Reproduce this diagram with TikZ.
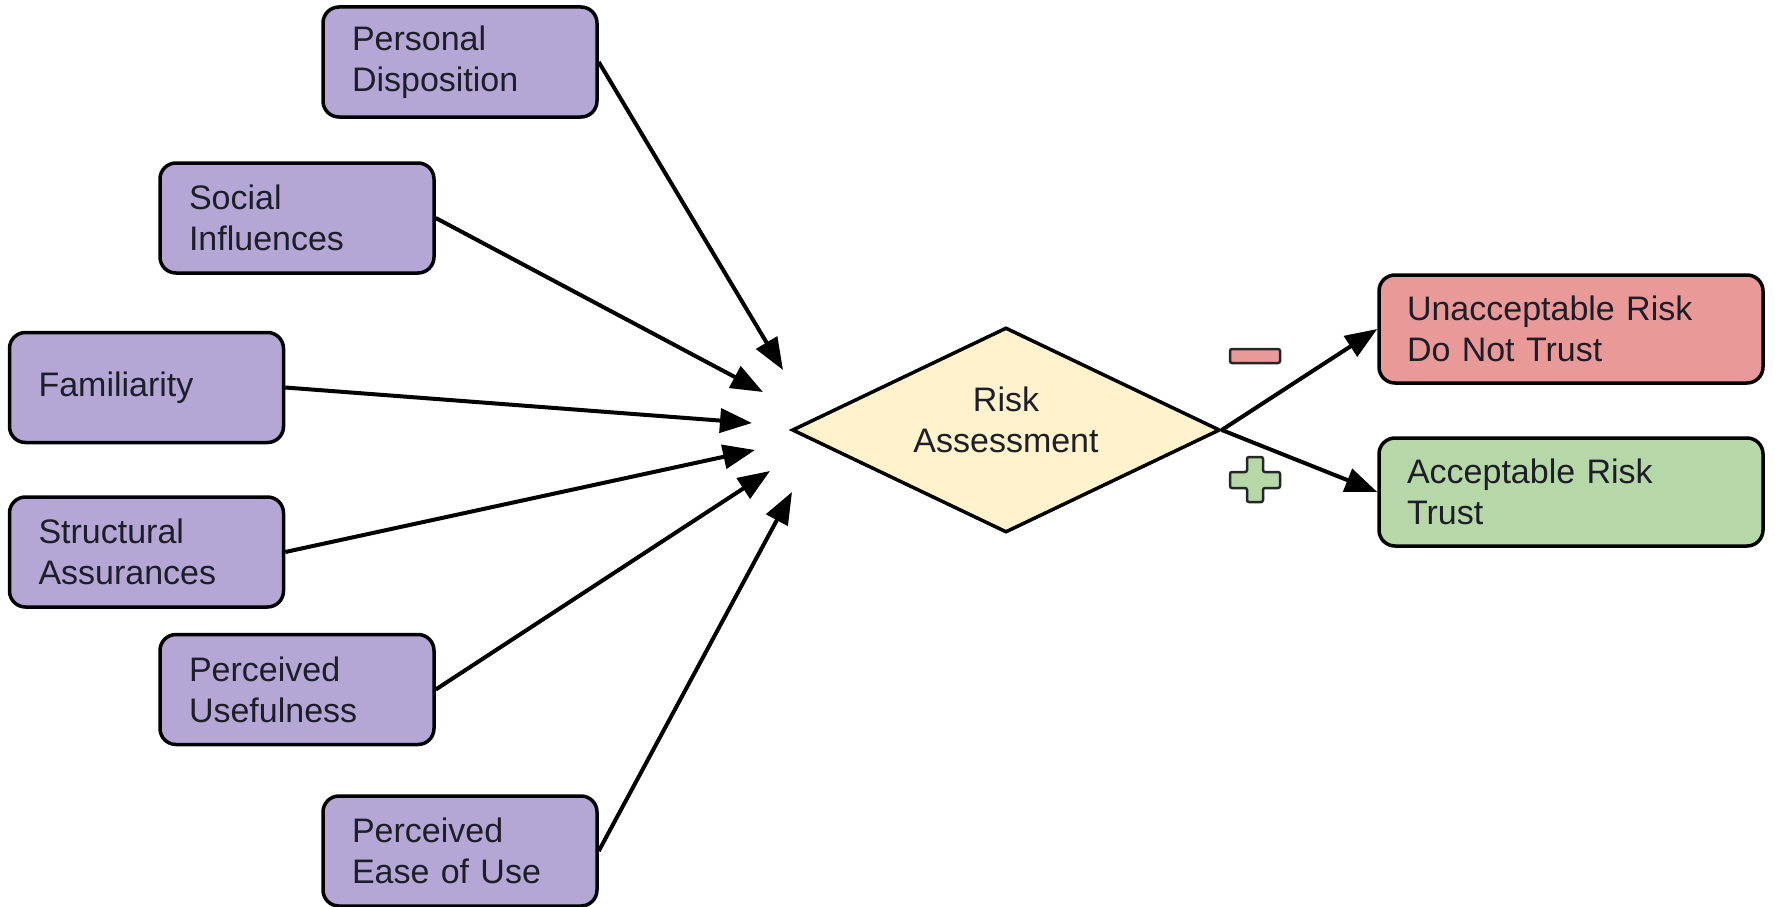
\documentclass[tikz,border=0pt]{standalone}
\usepackage{fontspec}
\setmainfont{Liberation Sans}
\usetikzlibrary{shapes.geometric,arrows.meta}
\definecolor{boxpurple}{HTML}{B4A7D6}
\definecolor{boxred}{HTML}{EA9999}
\definecolor{boxgreen}{HTML}{B6D7A8}
\definecolor{boxyellow}{HTML}{FFF2CC}
\definecolor{txtdark}{HTML}{1E1E28}
\begin{document}
\begin{tikzpicture}[x=1pt,y=-1pt,
  lbl/.style={text=txtdark, font=\fontsize{34}{41}\selectfont},
  factor/.style={lbl, draw=black, line width=3.5pt, rounded corners=16pt, fill=boxpurple,
    minimum height=110pt, text width=216pt, inner xsep=29pt, inner ysep=0pt, align=left},
  outcome/.style={factor, minimum height=108pt, text width=328pt, inner xsep=28pt},
  conn/.style={line width=4pt, -{Triangle[length=32pt,width=24pt]}},
  signmark/.style={draw=black!85, line width=2.5pt, rounded corners=2pt}]
\useasboundingbox (0,0) rectangle (1775,907);
% factor boxes
\node[factor] (pd)  at (460,62)    {Personal\\Disposition};
\node[factor] (si)  at (297,218)   {Social\\Influences};
\node[factor] (fam) at (146.5,387.5) {Familiarity};
\node[factor] (sa)  at (146.5,552) {Structural\\Assurances};
\node[factor] (pu)  at (297,689.5) {Perceived\\Usefulness};
\node[factor] (peu) at (460,851)   {Perceived\\Ease of Use};
% diamond
\node[diamond, draw=black, line width=3.5pt, fill=boxyellow, aspect=2.09,
  minimum width=428pt, minimum height=205pt, inner sep=0pt] (ra) at (1006,430) {};
\node[lbl, align=center] (ratext) at (1006,420) {Risk\\Assessment};
% outcomes
\node[outcome, fill=boxred]   (un) at (1571,329) {Unacceptable Risk\\Do Not Trust};
\node[outcome, fill=boxgreen] (ac) at (1571,492) {Acceptable Risk\\Trust};
% arrow tips near the diamond
\coordinate (tpd)  at (783,370);
\coordinate (tsi)  at (763,392);
\coordinate (tfam) at (752,423);
\coordinate (tsa)  at (755,450);
\coordinate (tpu)  at (770,471);
\coordinate (tpeu) at (792,492);
\draw[conn] (pd.east)  -- (tpd);
\draw[conn] (si.east)  -- (tsi);
\draw[conn] (fam.east) -- (tfam);
\draw[conn] (sa.east)  -- (tsa);
\draw[conn] (pu.east)  -- (tpu);
\draw[conn] (peu.east) -- (tpeu);
\draw[conn] (ra.east) -- (un.west);
\draw[conn] (ra.east) -- (ac.west);
% minus and plus signs
\draw[signmark, fill=boxred] (1230,349) rectangle (1280,363);
\draw[signmark, fill=boxgreen]
  (1247,457) -- (1263,457) -- (1263,472) -- (1280,472) -- (1280,488) -- (1263,488)
  -- (1263,502) -- (1247,502) -- (1247,488) -- (1230,488) -- (1230,472) -- (1247,472) -- cycle;
\end{tikzpicture}
\end{document}
